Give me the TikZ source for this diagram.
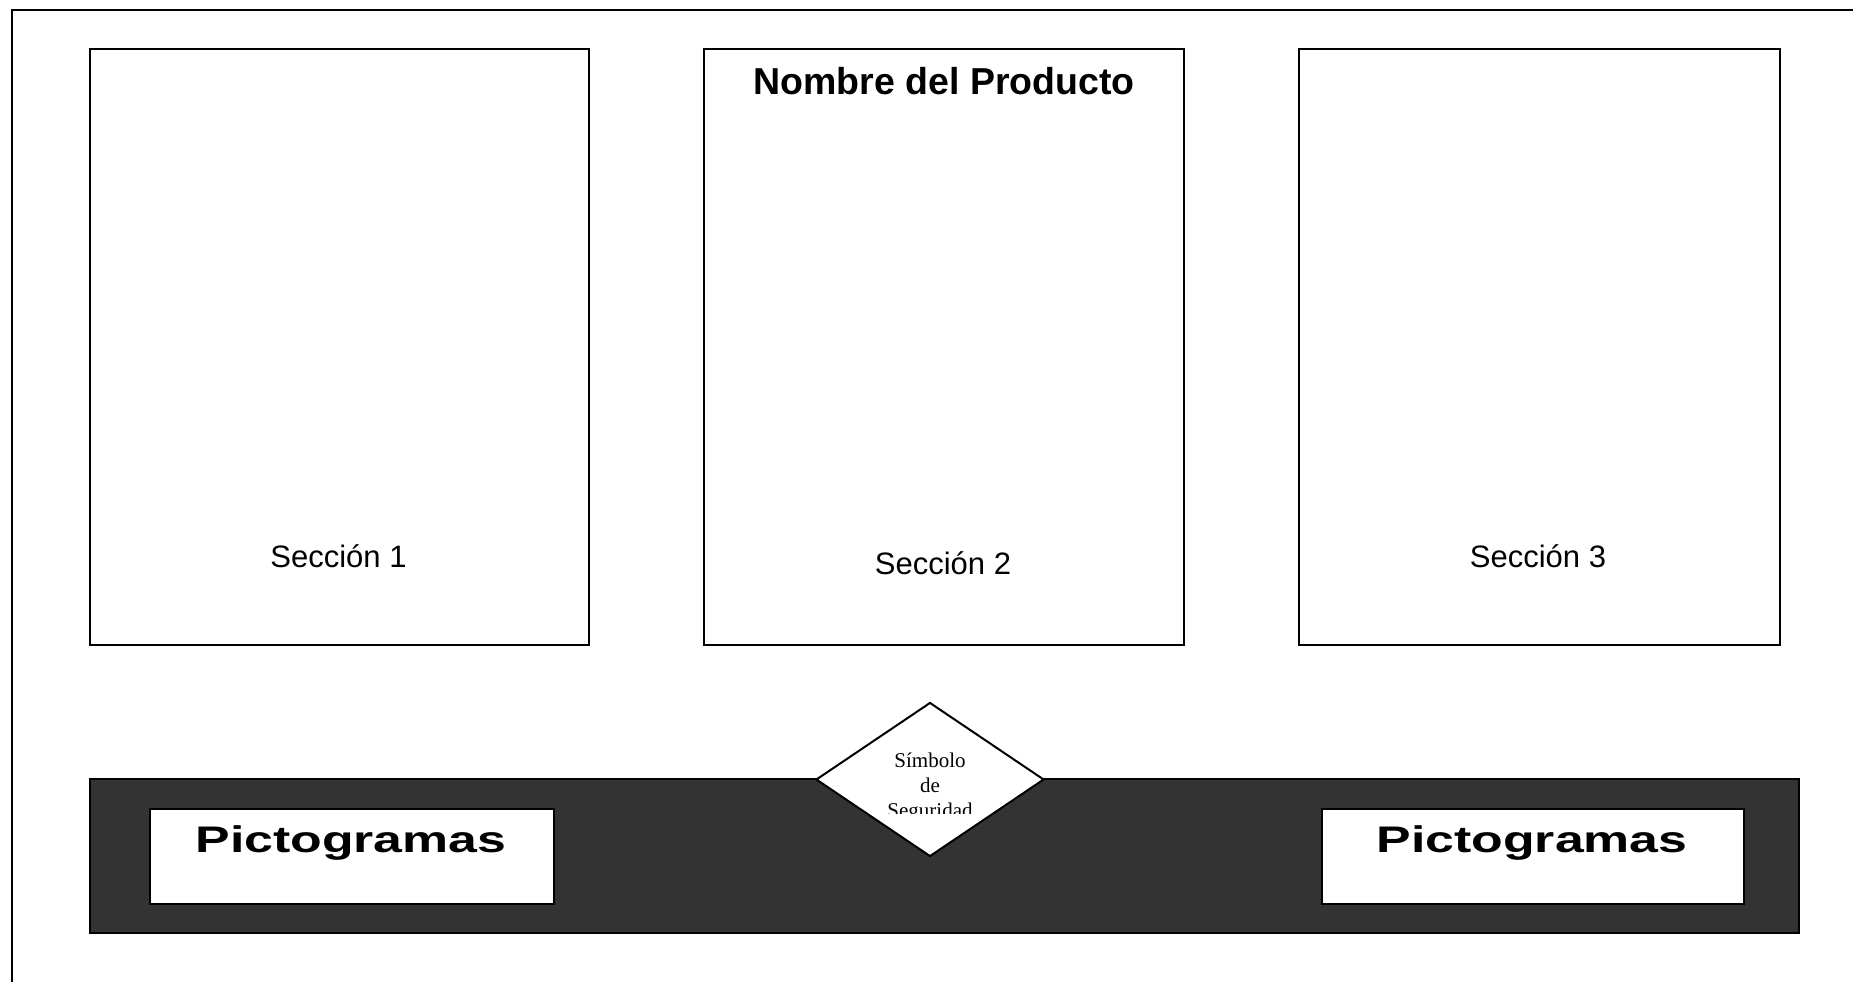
\documentclass[tikz,border=0pt]{standalone}
\usepackage{fontspec}
\setmainfont{Liberation Sans}
\newfontfamily\serifface{Liberation Serif}
\newfontfamily\wideface[FakeStretch=1.40]{Liberation Sans Bold}
\usetikzlibrary{shapes.geometric}
\definecolor{band}{HTML}{333333}
\tikzset{
  panel/.style={draw=black, line width=2pt, fill=white, rectangle, inner sep=0pt, anchor=north west},
  sectxt/.style={font=\fontsize{31}{36}\selectfont, anchor=base, inner sep=0pt},
  picttxt/.style={font=\wideface\fontsize{37}{42}\selectfont, anchor=base, inner sep=0pt},
  symtxt/.style={font=\serifface\fontsize{21}{25}\selectfont, anchor=base, inner sep=0pt},
}
\begin{document}
\begin{tikzpicture}[x=1pt,y=-1pt]
\useasboundingbox (0,0) rectangle (1853,982);
\fill[white] (0,0) rectangle (1853,982);
% outer frame
\coordinate (fbl) at (12,990);
\coordinate (ftl) at (12,10);
\coordinate (ftr) at (1860,10);
\draw[line width=2pt] (fbl) -- (ftl) -- (ftr);
% panels
\node[panel, minimum width=499pt, minimum height=595pt] (s1) at (89,48.5) {};
\node[panel, minimum width=480pt, minimum height=595pt] (s2) at (703,48.5) {};
\node[panel, minimum width=481pt, minimum height=595pt] (s3) at (1298,48.5) {};
\node[font=\bfseries\fontsize{37.5}{42}\selectfont, anchor=base, inner sep=0pt] (title) at (944,95) {Nombre del Producto};
\node[sectxt] (t1) at (338.5,567) {Sección 1};
\node[sectxt] (t2) at (943,574) {Sección 2};
\node[sectxt] (t3) at (1538,567) {Sección 3};
% band
\node[panel, fill=band, minimum width=1709pt, minimum height=154pt] (band) at (89,778) {};
\node[panel, minimum width=404pt, minimum height=95pt] (p1) at (149,808) {};
\node[panel, minimum width=422pt, minimum height=95pt] (p2) at (1321,808) {};
\node[picttxt] (pt1) at (351,852) {Pictogramas};
\node[picttxt] (pt2) at (1532,852) {Pictogramas};
% diamond
\node[draw=black, line width=2pt, fill=white, diamond, aspect=1.48, inner sep=0pt, minimum width=228pt, minimum height=154pt] (dia) at (930,779.5) {};
\begin{scope}
\clip (820,735) rectangle (1040,813);
\node[symtxt] (d1) at (930,767) {Símbolo};
\node[symtxt] (d2) at (930,792) {de};
\node[symtxt] (d3) at (930,817) {Seguridad};
\end{scope}
\end{tikzpicture}
\end{document}
